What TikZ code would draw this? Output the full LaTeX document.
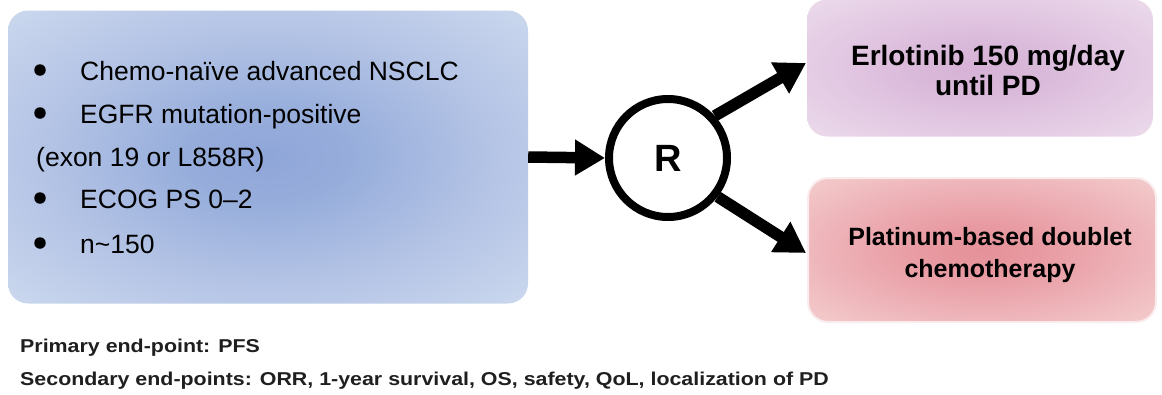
\documentclass[tikz,border=0pt]{standalone}
\usepackage{fontspec}
\setmainfont{Liberation Sans}
\newfontfamily\widefont{Liberation Sans}[FakeStretch=1.15]
\usetikzlibrary{arrows.meta}
\pgfdeclareradialshading{blueglow}{\pgfpoint{0bp}{0bp}}{rgb(0bp)=(0.56,0.65,0.85); rgb(8bp)=(0.59,0.68,0.86); rgb(22bp)=(0.71,0.77,0.90); rgb(38bp)=(0.81,0.86,0.94); rgb(50bp)=(0.83,0.87,0.94)}
\pgfdeclareradialshading{purpleglow}{\pgfpoint{0bp}{0bp}}{rgb(0bp)=(0.84,0.70,0.84); rgb(8bp)=(0.85,0.72,0.85); rgb(22bp)=(0.89,0.79,0.89); rgb(38bp)=(0.93,0.87,0.93); rgb(50bp)=(0.94,0.89,0.94)}
\pgfdeclareradialshading{redglow}{\pgfpoint{0bp}{0bp}}{rgb(0bp)=(0.90,0.57,0.60); rgb(8bp)=(0.91,0.60,0.63); rgb(22bp)=(0.93,0.70,0.72); rgb(38bp)=(0.96,0.82,0.82); rgb(50bp)=(0.97,0.86,0.86)}
\definecolor{redrim}{RGB}{250,236,236}
\tikzset{
  panel/.style={rounded corners=20pt, inner sep=0pt},
  bul/.style={circle, fill=black, inner sep=0pt, minimum size=11.5pt},
  crit/.style={anchor=base west, inner sep=0pt, font=\fontsize{26.5}{30}\selectfont},
  arm/.style={align=center, inner sep=0pt},
  endpt/.style={anchor=base west, inner sep=0pt, font=\widefont\bfseries\fontsize{18.6}{20}\selectfont, text=black!88},
  bigarrow/.style={line width=11.5pt, -{Triangle[length=30pt,width=34pt]}},
  rnode/.style={circle, draw, line width=8pt, minimum size=118pt, inner sep=0pt, font=\bfseries\fontsize{38}{40}\selectfont}
}
\begin{document}
\begin{tikzpicture}[x=1pt,y=-1pt]
\useasboundingbox (0,0) rectangle (1162,394);
% left panel
\node[panel, shading=blueglow, minimum width=520pt, minimum height=293pt] (left) at (268,157) {};
\node[bul] (b1) at (40,70) {};
\node[crit] (t1) at (80,80) {Chemo-naïve advanced NSCLC};
\node[bul] (b2) at (40,113) {};
\node[crit] (t2) at (80,123) {EGFR mutation-positive};
\node[crit] (t3) at (36,166) {(exon 19 or L858R)};
\node[bul] (b4) at (40,198) {};
\node[crit] (t4) at (80,208) {ECOG PS 0–2};
\node[bul] (b5) at (40,243) {};
\node[crit] (t5) at (80,253) {n\char"007E 150};
% arms
\node[panel, shading=purpleglow, minimum width=346pt, minimum height=137pt] (top) at (980,68) {};
\node[arm, font=\bfseries\fontsize{28}{30}\selectfont] (toptext) at (988,70) {Erlotinib 150 mg/day\\until PD};
\node[panel, shading=redglow, draw=redrim, line width=2pt, minimum width=348pt, minimum height=144pt] (bot) at (982,250) {};
\node[arm, font=\bfseries\fontsize{25}{32}\selectfont] (bottext) at (990,255) {Platinum-based doublet\\chemotherapy};
% randomisation
\node[rnode] (R) at (668,158) {R};
\draw[bigarrow] (left.east) -- (R.west);
\coordinate (topend) at (806,63);
\coordinate (botend) at (806,253);
\draw[bigarrow] (R.42) -- (topend);
\draw[bigarrow] (R.-38) -- (botend);
% endpoints
\node[endpt] (prim) at (20,352) {Primary end-point: PFS};
\node[endpt] (sec) at (20,385) {Secondary end-points: ORR, 1-year survival, OS, safety, QoL, localization of PD};
\end{tikzpicture}
\end{document}
